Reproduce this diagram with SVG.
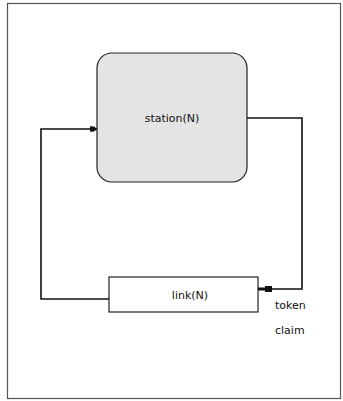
<svg xmlns="http://www.w3.org/2000/svg" width="343" height="401" viewBox="0 0 343 401">
<style>
.t{font-family:"DejaVu Sans","Liberation Sans",sans-serif;font-size:11px;fill:#111}
.c{fill:none;stroke:#111;stroke-width:1.6}
</style>
<defs>
<marker id="ah" viewBox="0 0 10 10" refX="10" refY="5" markerWidth="12" markerHeight="7" markerUnits="userSpaceOnUse" orient="auto">
<path d="M0,1 L6,1.5 L10,5 L6,8.5 L0,9 Z" fill="#111"/>
</marker>
</defs>
<rect x="0" y="0" width="343" height="401" fill="#fff"/>
<rect x="7.5" y="3.5" width="333" height="395" fill="none" stroke="#555" stroke-width="1.2"/>
<g id="station">
<rect x="97" y="53" width="150" height="129" rx="15" fill="#e4e4e4" stroke="#222" stroke-width="1.2"/>
<text class="t" x="172" y="122" text-anchor="middle">station(N)</text>
</g>
<g id="link">
<rect x="109" y="277" width="149" height="35" fill="#fff" stroke="#222" stroke-width="1.2"/>
<text class="t" x="190" y="299" text-anchor="middle">link(N)</text>
</g>
<g id="connectors">
<path class="c" d="M109,299 H41 V129 H97" marker-end="url(#ah)"/>
<path class="c" d="M247,118 H302 V289 H258"/>
<rect x="265" y="286" width="7" height="6" fill="#111"/>
<path d="M258,289 H268" stroke="#111" stroke-width="3"/>
</g>
<g id="label">
<text class="t" x="275" y="309">token</text>
<text class="t" x="275" y="334">claim</text>
</g>
</svg>
